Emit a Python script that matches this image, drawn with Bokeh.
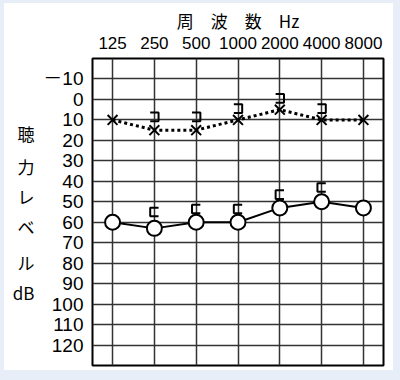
from bokeh.plotting import figure
from bokeh.models import Range1d, FixedTicker, LinearAxis
from bokeh.embed import file_html
from bokeh.resources import INLINE

# ---- data ----
freq_labels = ["125", "250", "500", "1000", "2000", "4000", "8000"]
freq_pos = list(range(len(freq_labels)))
air_x = [10, 15, 15, 10, 5, 10, 10]          # dotted, "×"
air_o = [60, 63, 60, 60, 53, 50, 53]         # solid, "○"
bone_pos = [1, 2, 3, 4, 5]
bone_r = [8.5, 8.5, 4.5, -0.5, 4.5]          # "⊐"
bone_l = [55, 53.5, 53.5, 46.5, 43]          # "⊏"
db_ticks = list(range(-10, 130, 10))
db_labels = ["－10"] + [str(v) for v in range(0, 130, 10)]
title_text = "周　波　数　Hz"
title_pos = 3
side_chars = ["聴", "力", "レ", "ベ", "ル", "dB"]
side_y = [16.6, 32.8, 47.5, 62.1, 79.5, 94.2]

BG = "#e8eef7"
p = figure(width=389, height=367,
           x_range=Range1d(-0.48, 6.48), y_range=Range1d(130, -20),
           output_backend="svg", toolbar_location=None,
           x_axis_location="above",
           min_border_left=88, min_border_right=10,
           min_border_top=55, min_border_bottom=5,
           background_fill_color="white", border_fill_color="white")
p.styles = {"margin-left": "4px", "margin-top": "3px",
            "outline": "12px solid " + BG}

def plain(ax):
    ax.axis_line_color = None
    ax.major_tick_in = 0
    ax.major_tick_out = 0
    ax.minor_tick_in = 0
    ax.minor_tick_out = 0
    ax.major_label_text_color = "black"

# frequency axis (above)
xa = p.xaxis[0]
xa.ticker = FixedTicker(ticks=freq_pos)
xa.major_label_overrides = {i: s for i, s in zip(freq_pos, freq_labels)}
xa.major_label_text_font = "Liberation Sans"
xa.major_label_text_font_size = "17px"
xa.major_label_standoff = 10
plain(xa)

# title as an extra axis above
ta = LinearAxis(ticker=FixedTicker(ticks=[title_pos]),
                major_label_overrides={title_pos: title_text})
ta.major_label_text_font = "Noto Sans CJK JP"
ta.major_label_text_font_size = "17px"
ta.major_label_standoff = 1
plain(ta)
p.add_layout(ta, "above")

# dB axis (left)
ya = p.yaxis[0]
ya.ticker = FixedTicker(ticks=db_ticks)
ya.major_label_overrides = {v: s for v, s in zip(db_ticks, db_labels)}
ya.major_label_text_font = "Liberation Sans, Noto Sans CJK JP"
ya.major_label_text_font_size = "19px"
ya.major_label_standoff = 9
plain(ya)

# stacked side label as an extra axis on the left
sa = LinearAxis(ticker=FixedTicker(ticks=side_y),
                major_label_overrides={v: s for v, s in zip(side_y, side_chars)})
sa.major_label_text_font = "Noto Sans CJK JP, Liberation Sans"
sa.major_label_text_font_size = "17px"
sa.major_label_standoff = 6
plain(sa)
p.add_layout(sa, "left")

p.xgrid.ticker = FixedTicker(ticks=freq_pos)
p.ygrid.ticker = FixedTicker(ticks=db_ticks)
for g in (p.xgrid[0], p.ygrid[0]):
    g.grid_line_color = "#333333"
    g.grid_line_width = 1.5
    g.grid_line_alpha = 1

p.outline_line_color = "black"
p.outline_line_width = 2
p.outline_line_alpha = 1

# series
p.line(freq_pos, air_x, line_color="black", line_width=3, line_dash="3 3")
p.scatter(freq_pos, air_x, marker="x", size=14, line_color="black", line_width=2)
p.line(freq_pos, air_o, line_color="black", line_width=2)
p.scatter(freq_pos, air_o, marker="circle", size=15, line_color="black",
          fill_color="white", line_width=2)

# bracket symbols built around each data point
BW = 0.1     # half width in x units (~4px)
BH = 2.1     # half height in dB (~4px)
r_xs = [[x - BW, x + BW, x + BW, x - BW] for x in bone_pos]
r_ys = [[y - BH, y - BH, y + BH, y + BH] for y in bone_r]
l_xs = [[x + BW, x - BW, x - BW, x + BW] for x in bone_pos]
l_ys = [[y - BH, y - BH, y + BH, y + BH] for y in bone_l]
p.multi_line(r_xs, r_ys, line_color="black", line_width=2)
p.multi_line(l_xs, l_ys, line_color="black", line_width=2)

open("out.html", "w").write(file_html(p, INLINE))
